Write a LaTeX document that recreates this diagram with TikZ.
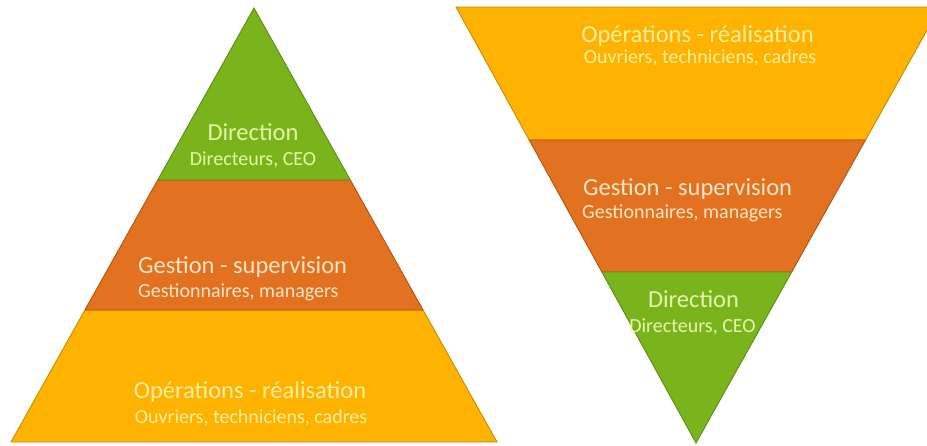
\documentclass[tikz,border=0pt]{standalone}
\usepackage{fontspec}
\setmainfont{Carlito}
\usetikzlibrary{calc}
\definecolor{cyellow}{RGB}{255,178,0}
\definecolor{corange}{RGB}{226,114,32}
\definecolor{cgreen}{RGB}{122,180,28}
\definecolor{lyellow}{RGB}{196,140,0}
\definecolor{lorange}{RGB}{176,84,20}
\definecolor{lgreen}{RGB}{92,140,18}
\definecolor{tyellow}{RGB}{255,240,160}
\definecolor{torange}{RGB}{252,228,200}
\definecolor{tgreen}{RGB}{230,246,168}
\tikzset{
  level/.style={line width=0.9pt, line join=miter},
  title/.style={font=\fontsize{24.5}{26}\selectfont, inner sep=0pt},
  sub/.style={font=\fontsize{20}{22}\selectfont, inner sep=0pt}
}
\begin{document}
\begin{tikzpicture}[x=1pt,y=-1pt]
\useasboundingbox (0,0) rectangle (927,445);
% left pyramid
\coordinate (LA) at (254,8);
\coordinate (LL) at (11,442);
\coordinate (LR) at (497,442);
\coordinate (L1l) at ($(LA)!0.3963!(LL)$);
\coordinate (L1r) at ($(LA)!0.3963!(LR)$);
\coordinate (L2l) at ($(LA)!0.6959!(LL)$);
\coordinate (L2r) at ($(LA)!0.6959!(LR)$);
\filldraw[level, fill=cyellow, draw=lyellow] (L2l) -- (L2r) -- (LR) -- (LL) -- cycle;
\filldraw[level, fill=corange, draw=lorange] (L1l) -- (L1r) -- (L2r) -- (L2l) -- cycle;
\filldraw[level, fill=cgreen, draw=lgreen] (LA) -- (L1r) -- (L1l) -- cycle;
% right inverted pyramid
\coordinate (RA) at (696,443);
\coordinate (RL) at (456,7);
\coordinate (RR) at (940,7);
\coordinate (R1l) at ($(RA)!0.6950!(RL)$);
\coordinate (R1r) at ($(RA)!0.6950!(RR)$);
\coordinate (R2l) at ($(RA)!0.3922!(RL)$);
\coordinate (R2r) at ($(RA)!0.3922!(RR)$);
\filldraw[level, fill=cyellow, draw=lyellow] (RL) -- (RR) -- (R1r) -- (R1l) -- cycle;
\filldraw[level, fill=corange, draw=lorange] (R1l) -- (R1r) -- (R2r) -- (R2l) -- cycle;
\filldraw[level, fill=cgreen, draw=lgreen] (R2l) -- (R2r) -- (RA) -- cycle;
% left texts
\node[title, anchor=base, text=tgreen] (ldir) at (253,140) {Direction};
\node[sub, anchor=base, text=tgreen] (ldirs) at (253,165) {Directeurs, CEO};
\node[title, anchor=base west, text=torange] (lges) at (138,273) {Gestion - supervision};
\node[sub, anchor=base west, text=torange] (lgess) at (138,297) {Gestionnaires, managers};
\node[title, anchor=base, text=tyellow] (lop) at (250,398) {Opérations - réalisation};
\node[sub, anchor=base, text=tyellow] (lops) at (251,423) {Ouvriers, techniciens, cadres};
% right texts
\node[title, anchor=base, text=tyellow] (rop) at (697.5,42) {Opérations - réalisation};
\node[sub, anchor=base, text=tyellow] (rops) at (700,63) {Ouvriers, techniciens, cadres};
\node[title, anchor=base west, text=torange] (rges) at (583,195) {Gestion - supervision};
\node[sub, anchor=base west, text=torange] (rgess) at (582,218) {Gestionnaires, managers};
\node[title, anchor=base, text=tgreen] (rdir) at (693.5,307) {Direction};
\node[sub, anchor=base, text=tgreen] (rdirs) at (692.5,332) {Directeurs, CEO};
\end{tikzpicture}
\end{document}
